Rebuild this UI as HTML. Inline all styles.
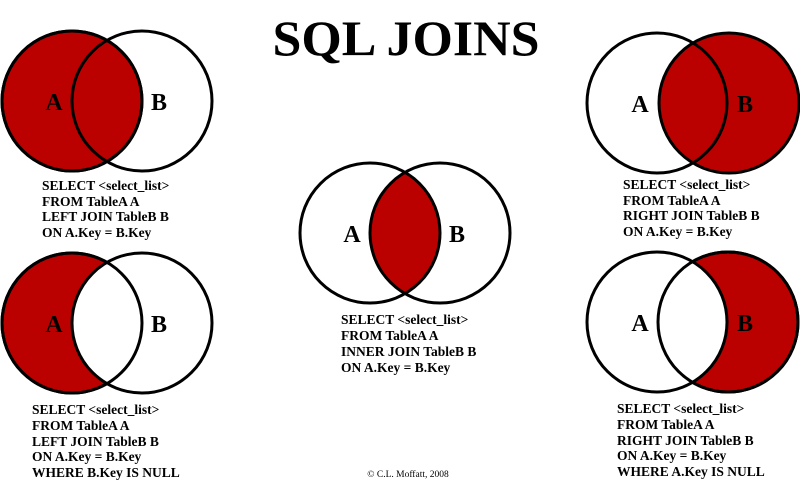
<!DOCTYPE html>
<html><head><meta charset="utf-8"><style>html,body{margin:0;padding:0;background:#fff}svg{display:block}</style></head>
<body>
<svg width="800" height="500" viewBox="0 0 800 500" xmlns="http://www.w3.org/2000/svg" font-family="'Liberation Serif', serif">
<defs>
<clipPath id="cA"><circle cx="370" cy="233" r="70"/></clipPath>
</defs>
<rect width="800" height="500" fill="#fff"/>
<text x="406" y="55" font-size="50" font-weight="bold" text-anchor="middle" textLength="267" lengthAdjust="spacingAndGlyphs">SQL JOINS</text>

<g stroke="#000" stroke-width="3">
<circle cx="72" cy="101" r="70" fill="#bb0000"/>
<circle cx="142" cy="101" r="70" fill="none"/>
<circle cx="72" cy="101" r="70" fill="none"/>

<circle cx="729" cy="103" r="70" fill="#bb0000"/>
<circle cx="657" cy="103" r="70" fill="none"/>

<circle cx="440" cy="233" r="70" fill="#bb0000" clip-path="url(#cA)" stroke="none"/>
<circle cx="370" cy="233" r="70" fill="none"/>
<circle cx="440" cy="233" r="70" fill="none"/>

<circle cx="72" cy="323" r="70" fill="#bb0000"/>
<circle cx="142" cy="323" r="70" fill="#fff"/>
<circle cx="72" cy="323" r="70" fill="none"/>

<circle cx="728" cy="322" r="70" fill="#bb0000"/>
<circle cx="657" cy="322" r="70" fill="#fff"/>
<circle cx="728" cy="322" r="70" fill="none"/>
</g>

<g font-size="24" font-weight="bold" text-anchor="middle">
<text x="54" y="110">A</text><text x="159" y="110">B</text>
<text x="640" y="112">A</text><text x="745" y="112">B</text>
<text x="352" y="242">A</text><text x="457" y="242">B</text>
<text x="54" y="332">A</text><text x="159" y="332">B</text>
<text x="640" y="331">A</text><text x="745" y="331">B</text>
</g>

<g font-size="13.5" font-weight="bold">
<text x="42" y="190">SELECT &lt;select_list&gt;</text>
<text x="42" y="206">FROM TableA A</text>
<text x="42" y="221">LEFT JOIN TableB B</text>
<text x="42" y="237">ON A.Key = B.Key</text>

<text x="623" y="189">SELECT &lt;select_list&gt;</text>
<text x="623" y="205">FROM TableA A</text>
<text x="623" y="220">RIGHT JOIN TableB B</text>
<text x="623" y="236">ON A.Key = B.Key</text>

<text x="341" y="324">SELECT &lt;select_list&gt;</text>
<text x="341" y="340">FROM TableA A</text>
<text x="341" y="356">INNER JOIN TableB B</text>
<text x="341" y="372">ON A.Key = B.Key</text>

<text x="32" y="414">SELECT &lt;select_list&gt;</text>
<text x="32" y="430">FROM TableA A</text>
<text x="32" y="446">LEFT JOIN TableB B</text>
<text x="32" y="461">ON A.Key = B.Key</text>
<text x="32" y="477">WHERE B.Key IS NULL</text>

<text x="617" y="413">SELECT &lt;select_list&gt;</text>
<text x="617" y="429">FROM TableA A</text>
<text x="617" y="445">RIGHT JOIN TableB B</text>
<text x="617" y="460">ON A.Key = B.Key</text>
<text x="617" y="476">WHERE A.Key IS NULL</text>
</g>
<text x="408" y="477" font-size="9.5" text-anchor="middle">© C.L. Moffatt, 2008</text>
</svg>
</body></html>
